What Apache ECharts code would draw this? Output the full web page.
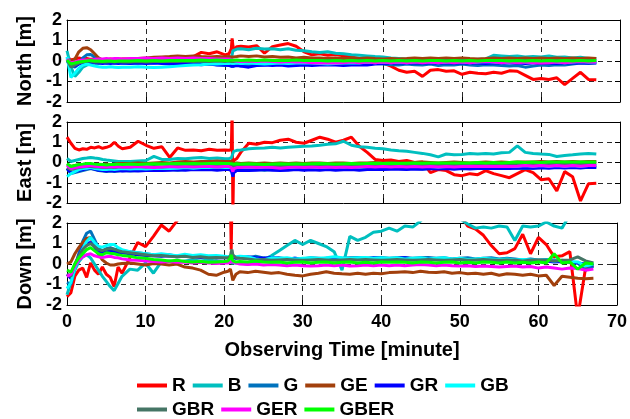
<!DOCTYPE html>
<html>
<head>
<meta charset="utf-8">
<script src="https://cdn.jsdelivr.net/npm/echarts@6.0.0/dist/echarts.min.js"></script>
<style>
html,body{margin:0;padding:0;background:#fff}
#chart{width:630px;height:419px}
</style>
</head>
<body>
<div id="chart"></div>
<script>
// Sampling times (minutes); denser around the 21-minute event
const minutes = [
  0,0.5,1,1.5,2,2.5,3,3.5,4,4.5,5,5.5,6,6.5,7,
  8,9,10,11,12,13,14,15,16,17,18,19,20,
  20.5,20.8,20.9,21,21.1,21.5,
  22,23,24,25,26,27,28,29,30,31,32,33,34,35,36,37,38,39,40,41,
  42,43,44,45,46,47,48,49,50,51,52,53,54,55,56,57,58,59,60,61,62,63,64,65,66,67
];

const seriesNames = ['R','B','G','GE','GR','GB','GBR','GER','GBER'];
const seriesColors = ['#ff0000','#00bfbf','#0072bd','#a2400c','#0000ff','#00ffff','#457565','#ff00ff','#00ff00'];
const panelTitles = ['North [m]','East [m]','Down [m]'];
const xTitle = 'Observing Time [minute]';

// ---- North errors (m)
const northR = [
  0.2,0.05,0.1,0.15,0.1,0.12,0.08,0.1,0.05,0.08,0.05,0.1,0.06,0.08,0.1,
  0.08,0.1,0.12,0.1,0.15,0.12,0.18,0.2,0.22,0.42,0.35,0.45,0.3,
  0.35,0.6,1.1,0.75,0.55,0.7,
  0.72,0.68,0.75,0.38,0.7,0.78,0.85,0.72,0.45,0.3,0.35,0.28,0.32,0.25,0.2,0.12,0.05,-0.02,-0.1,-0.25,
  -0.45,-0.55,-0.5,-0.75,-0.45,-0.42,-0.5,-0.48,-0.65,-0.55,-0.6,-0.62,-0.55,-0.6,-0.48,-0.5,-0.7,-0.9,-0.85,-0.9,-0.82,-1.15,-0.85,-0.55,-0.9,-0.92
];
const northB = [
  0.5,-0.3,-0.75,-0.55,-0.3,-0.2,-0.15,-0.1,-0.12,-0.08,-0.1,-0.05,-0.1,-0.08,-0.1,
  -0.12,-0.1,-0.08,-0.1,-0.05,-0.08,-0.05,-0.02,0,-0.05,-0.02,0,0.02,
  0.05,0.1,0.3,0.5,0.55,0.58,
  0.6,0.55,0.62,0.58,0.6,0.55,0.6,0.52,0.5,0.45,0.42,0.45,0.38,0.35,0.3,0.28,0.25,0.22,0.2,0.15,
  0.12,0.08,0.05,0.05,0.02,0.05,0.03,0.05,0.02,0.05,0.08,0.1,0.28,0.25,0.22,0.25,0.2,0.22,0.2,0.25,0.18,0.2,0.15,0.18,0.12,0.12
];
const northG = [
  0.1,-0.2,-0.3,-0.1,0.15,0.3,0.32,0.2,0,-0.05,-0.08,-0.1,-0.05,-0.08,-0.05,
  -0.05,-0.08,-0.06,-0.05,-0.08,-0.06,-0.1,-0.1,-0.12,-0.1,-0.15,-0.18,-0.22,
  -0.2,-0.25,-0.22,-0.28,-0.25,-0.2,
  -0.25,-0.2,-0.22,-0.18,-0.15,-0.15,-0.18,-0.2,-0.15,-0.12,-0.15,-0.12,-0.15,-0.1,-0.12,-0.15,-0.1,-0.12,-0.15,-0.18,
  -0.2,-0.15,-0.18,-0.2,-0.15,-0.22,-0.18,-0.2,-0.15,-0.2,-0.22,-0.18,-0.2,-0.22,-0.25,-0.22,-0.3,-0.25,-0.2,-0.22,-0.18,-0.2,-0.15,-0.1,-0.12,-0.1
];
const northGE = [
  0.1,-0.05,0.1,0.45,0.62,0.65,0.55,0.35,0.15,0.05,0.05,0.02,0.05,0.05,0.08,
  0.1,0.12,0.15,0.18,0.2,0.22,0.25,0.22,0.25,0.22,0.2,0.22,0.2,
  0.22,0.2,0.22,0.18,0.2,0.22,
  0.25,0.22,0.25,0.2,0.22,0.18,0.2,0.15,0.18,0.15,0.15,0.12,0.15,0.12,0.15,0.12,0.15,0.12,0.1,0.12,
  0.1,0.12,0.15,0.12,0.15,0.12,0.15,0.12,0.15,0.12,0.1,0.12,0.15,0.12,0.15,0.12,0.15,0.12,0.15,0.12,0.15,0.12,0.15,0.12,0.15,0.12
];
const northGR = [
  0,-0.15,-0.25,-0.15,-0.1,-0.05,-0.05,-0.08,-0.1,-0.12,-0.1,-0.12,-0.1,-0.12,-0.1,
  -0.12,-0.1,-0.12,-0.1,-0.12,-0.15,-0.12,-0.15,-0.15,-0.18,-0.15,-0.2,-0.2,
  -0.22,-0.25,-0.2,-0.3,-0.25,-0.22,
  -0.25,-0.3,-0.22,-0.2,-0.22,-0.2,-0.25,-0.22,-0.2,-0.22,-0.2,-0.18,-0.2,-0.22,-0.2,-0.18,-0.2,-0.15,-0.12,-0.1,
  -0.1,-0.08,-0.1,-0.08,-0.1,-0.08,-0.1,-0.08,-0.1,-0.08,-0.1,-0.12,-0.08,-0.1,-0.08,-0.1,-0.12,-0.1,-0.08,-0.1,-0.12,-0.08,-0.1,-0.08,-0.1,-0.08
];
const northGB = [
  0.2,-0.8,-0.6,-0.35,-0.2,-0.15,-0.2,-0.25,-0.28,-0.3,-0.3,-0.28,-0.3,-0.32,-0.3,
  -0.3,-0.28,-0.3,-0.32,-0.3,-0.28,-0.25,-0.22,-0.2,-0.18,-0.15,-0.15,-0.12,
  -0.12,-0.1,-0.12,-0.1,-0.12,-0.1,
  -0.12,-0.1,-0.12,-0.15,-0.12,-0.1,-0.12,-0.1,-0.08,-0.1,-0.12,-0.15,-0.12,-0.1,-0.08,-0.1,-0.05,-0.08,-0.05,-0.08,
  -0.05,-0.08,-0.05,-0.03,-0.05,-0.08,-0.05,-0.03,-0.05,-0.08,-0.05,-0.03,-0.05,-0.08,-0.05,-0.03,-0.05,-0.08,-0.05,-0.03,-0.05,-0.08,-0.05,-0.03,-0.05,-0.05
];
const northGBR = [
  0.05,-0.3,-0.2,-0.1,-0.05,0,0,-0.05,-0.05,-0.05,-0.05,-0.03,-0.05,-0.03,-0.05,
  -0.05,-0.03,-0.05,-0.03,-0.02,-0.03,-0.02,0,-0.02,0,-0.02,0,-0.02,
  0,-0.02,0,-0.05,-0.02,0,
  0,-0.02,0,0.02,0,-0.02,0,0.02,0,-0.02,0,0.02,0,-0.02,0,0.02,0,0,0.02,0,
  0,0.02,0,-0.02,0,0.02,0.03,0,0.02,0,-0.02,0,0.02,0,-0.02,0,0.02,0,-0.02,0,0.02,0,0.02,0,0.02,0
];
const northGER = [
  0.1,-0.1,-0.05,0,0.05,0.05,0.05,0.08,0.1,0.1,0.12,0.1,0.12,0.12,0.1,
  0.12,0.12,0.15,0.12,0.15,0.12,0.15,0.12,0.15,0.12,0.12,0.1,0.1,
  0.1,0.08,0.05,0,0.02,0,
  -0.02,0,-0.02,0,-0.02,-0.05,-0.02,-0.05,-0.05,-0.08,-0.1,-0.08,-0.1,-0.08,-0.05,-0.08,-0.05,-0.08,-0.05,-0.08,
  -0.05,-0.08,-0.05,-0.08,-0.05,-0.08,-0.05,-0.08,-0.05,-0.08,-0.05,-0.03,-0.05,-0.08,-0.05,-0.08,-0.05,-0.08,-0.1,-0.08,-0.05,-0.08,-0.05,-0.03,-0.05,-0.05
];
const northGBER = [
  0.05,-0.15,-0.1,-0.05,-0.02,0,0.02,0,0,-0.02,0,0,-0.02,0,0,
  0,0.02,0,0.02,0,0.02,0.03,0.02,0.03,0.05,0.03,0.05,0.03,
  0.03,0.05,0.03,0.02,0.03,0.05,
  0.03,0.05,0.03,0.05,0.03,0.02,0.03,0.05,0.03,0.02,0.03,0,0.02,0,0.02,0,0.02,0,0.02,0,
  0.02,0,0.02,0,0.02,0.03,0,0.02,0,0.02,0,0.02,0.03,0.02,0,0.02,0,0.02,0,0.02,0,0.02,0,0.02,0,0.02
];

// ---- East errors (m)
const eastR = [
  1.25,0.95,0.7,0.62,0.68,0.65,0.75,0.72,0.78,0.7,0.75,0.82,1.0,0.8,0.68,
  0.75,1.05,0.85,0.7,0.78,0.25,0.72,0.6,0.62,0.58,0.65,0.6,0.62,
  0.6,0.65,2.6,-2.6,0.1,0.2,
  0.5,0.95,0.9,1.0,0.98,1.1,1.15,1.0,0.95,1.1,1.25,1.15,1.0,1.1,1.25,0.8,0.5,0.15,0.1,0.12,
  0.05,0.1,0,0.02,-0.5,-0.35,-0.4,-0.6,-0.65,-0.55,-0.6,-0.4,-0.55,-0.65,-0.75,-0.55,-0.35,-0.5,-0.85,-0.8,-1.4,-0.45,-0.7,-1.9,-1.05,-1.02
];
const eastB = [
  0.2,0.05,0.1,0.15,0.2,0.22,0.25,0.22,0.2,0.15,0.12,0.1,0.08,0.05,0.05,
  0.05,0.08,0.1,0.3,0.15,0.15,0.2,0.18,0.22,0.25,0.2,0.22,0.18,
  0.2,0.22,0.25,0.45,0.55,0.6,
  0.62,0.68,0.7,0.72,0.75,0.72,0.75,0.78,0.8,0.82,0.85,0.9,0.92,1.05,0.85,0.78,0.75,0.7,0.68,0.62,
  0.58,0.55,0.5,0.45,0.38,0.28,0.42,0.38,0.4,0.45,0.42,0.45,0.42,0.48,0.5,0.82,0.5,0.45,0.42,0.4,0.3,0.35,0.38,0.42,0.45,0.42
];
const eastG = [
  -0.3,-0.55,-0.5,-0.45,-0.4,-0.35,-0.3,-0.35,-0.4,-0.42,-0.45,-0.42,-0.45,-0.42,-0.4,
  -0.42,-0.4,-0.38,-0.4,-0.38,-0.35,-0.38,-0.35,-0.32,-0.35,-0.32,-0.3,-0.32,
  -0.32,-0.35,-0.4,-0.45,-0.38,-0.35,
  -0.35,-0.32,-0.35,-0.38,-0.35,-0.32,-0.35,-0.32,-0.3,-0.32,-0.35,-0.32,-0.3,-0.32,-0.35,-0.32,-0.3,-0.32,-0.3,-0.28,
  -0.3,-0.28,-0.3,-0.32,-0.3,-0.28,-0.3,-0.28,-0.25,-0.28,-0.3,-0.28,-0.25,-0.28,-0.25,-0.28,-0.3,-0.28,-0.25,-0.22,-0.25,-0.22,-0.25,-0.22,-0.2,-0.22
];
const eastGE = [
  -0.1,-0.2,-0.15,-0.12,-0.1,-0.08,-0.1,-0.1,-0.08,-0.1,-0.08,-0.1,-0.08,-0.05,-0.05,
  -0.05,-0.03,-0.05,-0.02,0,-0.02,0.02,0.05,0.03,0.05,0.05,0.08,0.05,
  0.05,0.05,0.03,-0.05,-0.05,-0.02,
  -0.05,-0.02,-0.05,-0.03,-0.05,-0.02,-0.05,-0.03,-0.05,-0.02,-0.03,-0.05,-0.02,-0.03,-0.05,-0.02,-0.03,0,-0.02,0,
  0,-0.02,0,0.02,0,-0.02,0,0.02,0,-0.02,0,0.02,0,0.02,0,0.03,0.02,0.03,0.05,0.03,0.05,0.03,0.05,0.03,0.05,0.05
];
const eastGR = [
  -0.3,-0.5,-0.45,-0.4,-0.35,-0.3,-0.28,-0.32,-0.38,-0.4,-0.42,-0.4,-0.42,-0.4,-0.42,
  -0.4,-0.42,-0.4,-0.38,-0.4,-0.38,-0.36,-0.38,-0.35,-0.36,-0.35,-0.38,-0.35,
  -0.35,-0.4,-0.55,-0.7,-0.5,-0.4,
  -0.38,-0.4,-0.38,-0.35,-0.38,-0.4,-0.38,-0.35,-0.38,-0.36,-0.38,-0.35,-0.38,-0.36,-0.35,-0.38,-0.35,-0.33,-0.35,-0.33,
  -0.33,-0.35,-0.32,-0.33,-0.3,-0.32,-0.3,-0.33,-0.3,-0.32,-0.3,-0.28,-0.3,-0.28,-0.3,-0.28,-0.26,-0.28,-0.26,-0.28,-0.25,-0.27,-0.25,-0.27,-0.24,-0.25
];
const eastGB = [
  -0.7,-0.55,-0.45,-0.35,-0.3,-0.28,-0.25,-0.3,-0.32,-0.35,-0.35,-0.32,-0.35,-0.32,-0.3,
  -0.32,-0.3,-0.32,-0.3,-0.28,-0.3,-0.28,-0.25,-0.28,-0.25,-0.25,-0.22,-0.25,
  -0.25,-0.22,-0.25,-0.28,-0.25,-0.22,
  -0.25,-0.22,-0.25,-0.22,-0.2,-0.22,-0.25,-0.22,-0.2,-0.22,-0.25,-0.22,-0.2,-0.22,-0.2,-0.22,-0.2,-0.18,-0.2,-0.18,
  -0.2,-0.18,-0.2,-0.18,-0.2,-0.22,-0.2,-0.18,-0.2,-0.18,-0.2,-0.18,-0.15,-0.18,-0.2,-0.18,-0.15,-0.18,-0.15,-0.18,-0.15,-0.18,-0.15,-0.18,-0.15,-0.15
];
const eastGBR = [
  -0.25,-0.35,-0.3,-0.25,-0.22,-0.2,-0.2,-0.22,-0.22,-0.25,-0.25,-0.22,-0.25,-0.22,-0.22,
  -0.22,-0.2,-0.22,-0.2,-0.22,-0.2,-0.18,-0.2,-0.18,-0.2,-0.18,-0.16,-0.18,
  -0.18,-0.2,-0.22,-0.25,-0.2,-0.18,
  -0.18,-0.2,-0.18,-0.16,-0.18,-0.2,-0.18,-0.16,-0.18,-0.16,-0.18,-0.16,-0.15,-0.16,-0.18,-0.16,-0.15,-0.16,-0.15,-0.14,
  -0.15,-0.14,-0.15,-0.13,-0.15,-0.14,-0.12,-0.14,-0.12,-0.14,-0.12,-0.13,-0.12,-0.1,-0.12,-0.1,-0.12,-0.1,-0.12,-0.1,-0.08,-0.1,-0.08,-0.1,-0.08,-0.08
];
const eastGER = [
  -0.15,-0.3,-0.25,-0.22,-0.2,-0.18,-0.15,-0.18,-0.2,-0.22,-0.22,-0.2,-0.22,-0.2,-0.22,
  -0.22,-0.2,-0.22,-0.25,-0.22,-0.2,-0.22,-0.2,-0.22,-0.2,-0.2,-0.22,-0.2,
  -0.2,-0.25,-0.35,-0.45,-0.3,-0.25,
  -0.25,-0.22,-0.25,-0.22,-0.25,-0.28,-0.25,-0.22,-0.25,-0.22,-0.25,-0.22,-0.25,-0.22,-0.25,-0.22,-0.2,-0.22,-0.2,-0.22,
  -0.2,-0.22,-0.2,-0.22,-0.2,-0.22,-0.2,-0.22,-0.2,-0.18,-0.2,-0.18,-0.2,-0.18,-0.2,-0.18,-0.15,-0.18,-0.15,-0.18,-0.15,-0.18,-0.15,-0.18,-0.15,-0.15
];
const eastGBER = [
  -0.05,-0.2,-0.15,-0.1,-0.08,-0.05,-0.05,-0.08,-0.1,-0.1,-0.12,-0.1,-0.1,-0.08,-0.1,
  -0.08,-0.1,-0.08,-0.06,-0.08,-0.06,-0.05,-0.06,-0.05,-0.06,-0.05,-0.04,-0.05,
  -0.05,-0.06,-0.08,-0.12,-0.08,-0.06,
  -0.08,-0.06,-0.08,-0.1,-0.08,-0.06,-0.08,-0.06,-0.08,-0.06,-0.05,-0.06,-0.08,-0.06,-0.05,-0.06,-0.05,-0.04,-0.05,-0.04,
  -0.05,-0.04,-0.03,-0.04,-0.03,-0.02,-0.03,-0.02,-0.03,-0.02,0,-0.02,0,-0.02,0,0.02,0,0.02,0,0.02,0.03,0.02,0.03,0.02,0.03,0.02
];

// ---- Down errors (m)
const downR = [
  -1.6,-1.4,-0.6,-0.3,-0.2,-0.65,0.05,-0.3,-0.5,-0.15,-0.5,-0.65,-1.1,-0.15,-0.45,
  0.3,1.05,0.85,1.35,1.9,1.6,2.1,2.6,2.8,3,3,3,3,
  3,3,0.7,3,3,3,
  3,3,3,3,3,3,3,3,3,3,3,3,3,3,3,3,3,3,3,3,
  3,3,3,3,3,3,3,3,2.4,1.85,1.7,1.4,0.9,0.5,0.55,0.75,1.45,0.5,1.3,0.95,0.35,0.4,0.6,-2.6,-0.2,-0.05
];
const downB = [
  -1.5,-0.9,-0.3,0.1,0.35,0.45,0.3,0,-0.3,-0.6,-0.85,-1.1,-1.3,-0.95,-0.6,
  -0.25,-0.3,0.05,-0.45,0.1,0.15,0.1,0.15,0.2,0.15,0.2,0.15,0.1,
  0.1,0.15,0.1,0.05,0,0.05,
  0.05,0,0.05,0.2,0.4,0.65,0.9,1.15,0.95,1.15,1,0.85,0.6,-0.3,1.35,1.15,1.3,1.55,1.6,1.75,
  1.6,1.85,1.8,2.1,2.5,2.6,2.5,2.4,2.2,1.95,1.75,1.8,1.75,1.85,1.8,1.15,1.85,1.8,1.85,2.05,1.85,1.75,2.4,2.6,2.6,2.6
];
const downG = [
  -0.9,-1.0,-0.2,0.5,1.1,1.5,1.6,1.2,0.8,0.62,0.75,0.8,0.72,0.7,0.65,
  0.6,0.55,0.5,0.45,0.4,0.45,0.38,0.4,0.35,0.4,0.35,0.3,0.35,
  0.3,0.35,0.4,0.5,0.35,0.3,
  0.35,0.3,0.38,0.3,0.25,0.3,0.25,0.28,0.25,0.3,0.28,0.25,0.3,0.28,0.3,0.32,0.28,0.3,0.32,0.28,
  0.3,0.32,0.28,0.3,0.32,0.28,0.3,0.25,0.28,0.3,0.25,0.28,0.3,0.25,0.28,0.25,0.2,0.25,0.2,0.22,0.2,0.15,0.1,0.05,-0.3,-0.1
];
const downGE = [
  0,0.1,0.5,0.8,1.05,1.25,1.3,0.9,0.5,0.2,0.05,-0.05,-0.05,0,0.02,
  0.05,0,-0.05,0.02,0,-0.05,0,-0.15,-0.2,-0.3,-0.5,-0.55,-0.4,
  -0.35,-0.25,-0.2,-0.6,-0.8,-0.5,
  -0.38,-0.42,-0.35,-0.4,-0.45,-0.42,-0.5,-0.55,-0.58,-0.5,-0.45,-0.38,-0.45,-0.48,-0.5,-0.45,-0.5,-0.45,-0.48,-0.42,
  -0.4,-0.38,-0.42,-0.35,-0.4,-0.42,-0.38,-0.45,-0.42,-0.48,-0.45,-0.5,-0.45,-0.55,-0.48,-0.5,-0.55,-0.5,-0.58,-0.55,-1.05,-0.6,-0.65,-0.7,-0.72,-0.7
];
const downGR = [
  -0.5,-0.7,-0.1,0.4,0.8,1.0,1.05,0.85,0.6,0.55,0.6,0.62,0.6,0.55,0.55,
  0.5,0.45,0.42,0.4,0.38,0.4,0.35,0.38,0.35,0.32,0.35,0.3,0.32,
  0.3,0.32,0.35,0.45,0.3,0.28,
  0.3,0.35,0.3,0.28,0.32,0.28,0.25,0.28,0.25,0.22,0.25,0.28,0.25,0.22,0.25,0.28,0.25,0.3,0.28,0.25,
  0.28,0.3,0.25,0.28,0.25,0.22,0.25,0.22,0.25,0.2,0.22,0.2,0.18,0.2,0.18,0.15,0.18,0.15,0.12,0.15,0.1,0.12,0.1,0.05,0,-0.05
];
const downGB = [
  -1.2,-0.9,-0.2,0.3,0.75,1.1,1.3,1.05,0.85,0.82,0.9,0.95,0.95,0.8,0.7,
  0.6,0.55,0.5,0.45,0.5,0.45,0.4,0.48,0.42,0.45,0.4,0.42,0.38,
  0.35,0.4,0.45,0.5,0.4,0.35,
  0.38,0.35,0.25,0.2,0.3,0.28,0.3,0.25,0.28,0.3,0.28,0.3,0.35,0.3,0.28,0.3,0.32,0.28,0.3,0.28,
  0.3,0.25,0.28,0.3,0.25,0.28,0.3,0.25,0.28,0.22,0.25,0.28,0.25,0.22,0.25,0.2,0.22,0.2,0.18,0.2,0.15,0.18,0.12,0.1,-0.1,0
];
const downGBR = [
  -0.5,-0.6,0,0.4,0.7,0.9,1.0,0.85,0.7,0.65,0.72,0.75,0.72,0.65,0.6,
  0.55,0.5,0.45,0.4,0.42,0.38,0.35,0.38,0.32,0.35,0.3,0.32,0.3,
  0.3,0.4,0.6,0.7,0.45,0.3,
  0.28,0.25,0.2,0.22,0.18,0.2,0.22,0.2,0.18,0.2,0.22,0.2,0.18,0.2,0.22,0.2,0.22,0.2,0.18,0.2,
  0.22,0.2,0.18,0.2,0.22,0.2,0.18,0.2,0.22,0.18,0.2,0.22,0.2,0.18,0.2,0.18,0.15,0.18,0.2,0.18,0.15,0.18,0.2,0.35,0.15,0.05
];
const downGER = [
  -0.6,-0.5,-0.1,0.2,0.35,0.45,0.5,0.4,0.35,0.32,0.35,0.38,0.32,0.3,0.25,
  0.2,0.18,0.15,0.12,0.1,0.12,0.08,0.1,0.05,0.08,0.05,0.02,0.05,
  0.05,0.08,0.15,0.2,0.1,0.05,
  0,-0.02,0,-0.05,-0.02,-0.05,-0.08,-0.05,-0.08,-0.1,-0.08,-0.05,-0.08,-0.05,-0.1,-0.08,-0.05,-0.08,-0.05,-0.08,
  -0.05,-0.08,-0.05,-0.02,-0.05,-0.08,-0.05,-0.08,-0.1,-0.08,-0.12,-0.1,-0.12,-0.15,-0.12,-0.1,-0.15,-0.12,-0.2,-0.15,-0.2,-0.25,-0.2,-0.22,-0.3,-0.25
];
const downGBER = [
  -0.3,-0.4,0,0.3,0.5,0.7,0.8,0.65,0.5,0.45,0.55,0.52,0.5,0.45,0.42,
  0.38,0.3,0.28,0.22,0.2,0.15,0.18,0.12,0.1,0.12,0.08,0.1,0.12,
  0.15,0.3,0.45,0.3,0.15,0.1,
  0.12,0.1,0.15,0.1,0.08,0.1,0.05,0.08,0.1,0.05,0.08,0.1,0.05,0.08,0.1,0.05,0.08,0.05,0.1,0.08,
  0.1,0.08,0.05,0.1,0.08,0.05,0.08,0.1,0.05,0.08,0.05,0.1,0.08,0.05,0.1,0.05,0.08,0.05,0.1,0.05,0.5,0.05,0.1,-0.25,0.05,0
];

const panelData = [
  [northR, northB, northG, northGE, northGR, northGB, northGBR, northGER, northGBER],
  [eastR, eastB, eastG, eastGE, eastGR, eastGB, eastGBR, eastGER, eastGBER],
  [downR, downB, downG, downGE, downGR, downGB, downGBR, downGER, downGBER]
];

const FONT = '"Liberation Sans", Arial, Helvetica, sans-serif';
const txt = { fontFamily: FONT, fontWeight: 'bold', color: '#000' };
const dashed = { color: '#2a2a2a', width: 1, type: [5, 4] };
const frame = { color: '#000', width: 1 };

const gridBoxes = [
  { top: 20, height: 82 },
  { top: 122, height: 81 },
  { top: 223, height: 82 }
];

const grid = gridBoxes.map(g => ({ left: 67, width: 553, top: g.top, height: g.height, containLabel: false }));

const xAxis = [];
const yAxis = [];
gridBoxes.forEach((g, p) => {
  const last = p === 2;
  xAxis.push({
    type: 'value', gridIndex: p, min: 0, max: 70, interval: 10, position: 'bottom',
    axisLine: { show: true, onZero: false, lineStyle: frame },
    axisTick: { show: true, inside: true, length: 5, lineStyle: frame },
    axisLabel: { show: last, margin: 8, fontSize: 18, ...txt },
    splitLine: { show: true, lineStyle: dashed },
    name: last ? xTitle : '', nameLocation: 'middle', nameGap: 35,
    nameTextStyle: { fontSize: 20, ...txt }
  });
  xAxis.push({
    type: 'value', gridIndex: p, min: 0, max: 70, interval: 10, position: 'top',
    axisLine: { show: true, onZero: false, lineStyle: frame },
    axisTick: { show: true, inside: true, length: 5, lineStyle: frame },
    axisLabel: { show: false }, splitLine: { show: false }
  });
  yAxis.push({
    type: 'value', gridIndex: p, min: -2, max: 2, interval: 1, position: 'left',
    axisLine: { show: true, onZero: false, lineStyle: frame },
    axisTick: { show: true, inside: true, length: 5, lineStyle: frame },
    axisLabel: { show: true, margin: 5, fontSize: 18, ...txt },
    splitLine: { show: true, lineStyle: dashed },
    name: panelTitles[p], nameLocation: 'middle', nameRotate: 90, nameGap: 32,
    nameTextStyle: { fontSize: 20, ...txt }
  });
  yAxis.push({
    type: 'value', gridIndex: p, min: -2, max: 2, interval: 1, position: 'right',
    axisLine: { show: true, onZero: false, lineStyle: frame },
    axisTick: { show: true, inside: true, length: 5, lineStyle: frame },
    axisLabel: { show: false }, splitLine: { show: false }
  });
});

const series = [];
panelData.forEach((sets, p) => {
  sets.forEach((vals, k) => {
    series.push({
      type: 'line',
      name: seriesNames[k],
      xAxisIndex: 2 * p,
      yAxisIndex: 2 * p,
      data: minutes.map((t, i) => [t, vals[i]]),
      showSymbol: false,
      clip: true,
      lineStyle: { width: 3, color: seriesColors[k] },
      itemStyle: { color: seriesColors[k] },
      emphasis: { disabled: true }
    });
  });
});

const legendBase = {
  left: 137, orient: 'horizontal', icon: 'rect', itemWidth: 30, itemHeight: 4,
  itemGap: 7, padding: 0, selectedMode: false,
  textStyle: { fontSize: 19, ...txt }
};

const chart = echarts.init(document.getElementById('chart'), null, { renderer: 'canvas' });
chart.setOption({
  backgroundColor: '#fff',
  animation: false,
  grid, xAxis, yAxis, series,
  legend: [
    { ...legendBase, top: 376, data: seriesNames.slice(0, 6) },
    { ...legendBase, top: 400, data: seriesNames.slice(6) }
  ]
});
</script>
</body>
</html>
